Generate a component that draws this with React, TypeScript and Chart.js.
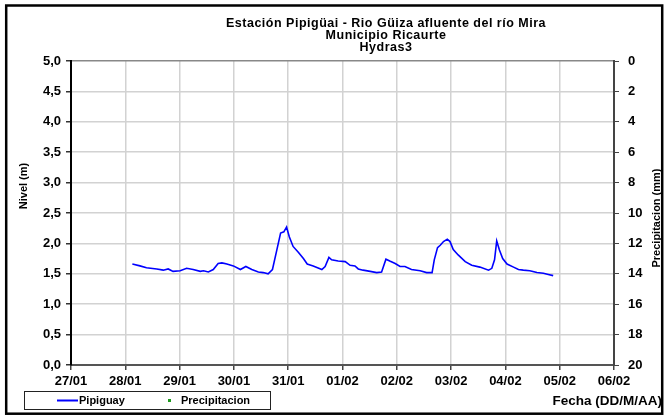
import { useEffect, useRef } from "react";
import { Chart, registerables } from "chart.js";

Chart.register(...registerables);

const dateLabels = ["27/01", "28/01", "29/01", "30/01", "31/01", "01/02", "02/02", "03/02", "04/02", "05/02", "06/02"];

const levelDays = [
  1.13, 1.27, 1.39, 1.58, 1.7, 1.79, 1.88, 2.01, 2.13, 2.25, 2.38, 2.44, 2.53, 2.62, 2.71, 2.78, 2.87, 2.99,
  3.12, 3.22, 3.33, 3.45, 3.54, 3.63, 3.71, 3.79, 3.86, 3.92, 3.97, 4.02, 4.09, 4.19, 4.28, 4.35, 4.46, 4.54,
  4.62, 4.68, 4.75, 4.8, 4.92, 5.05, 5.14, 5.23, 5.29, 5.38, 5.51, 5.63, 5.72, 5.8, 5.87, 5.97, 6.06, 6.15,
  6.27, 6.43, 6.55, 6.65, 6.69, 6.75, 6.8, 6.86, 6.93, 6.98, 7.04, 7.13, 7.26, 7.38, 7.53, 7.69, 7.75, 7.8,
  7.84, 7.89, 7.95, 8.03, 8.15, 8.24, 8.33, 8.45, 8.58, 8.7, 8.79, 8.88,
];
const levelValues = [
  1.66, 1.63, 1.6, 1.58, 1.56, 1.58, 1.54, 1.55, 1.59, 1.57, 1.54, 1.55, 1.53, 1.57, 1.67, 1.68, 1.66, 1.63,
  1.57, 1.62, 1.57, 1.53, 1.52, 1.5, 1.57, 1.89, 2.17, 2.19, 2.27, 2.11, 1.95, 1.85, 1.75, 1.66, 1.63, 1.6,
  1.57, 1.62, 1.77, 1.73, 1.71, 1.7, 1.64, 1.63, 1.58, 1.56, 1.54, 1.52, 1.53, 1.74, 1.71, 1.67, 1.62, 1.62,
  1.57, 1.55, 1.52, 1.52, 1.73, 1.93, 1.97, 2.03, 2.07, 2.03, 1.9, 1.81, 1.7, 1.64, 1.61, 1.56, 1.59, 1.73,
  2.04, 1.89, 1.75, 1.66, 1.61, 1.57, 1.56, 1.55, 1.52, 1.51, 1.49, 1.47,
];

const precipDays: number[] = [];
const precipValues: number[] = [];

const seriesNames = ["Pipiguay", "Precipitacion"];
const titleLines = ["Estación Pipigüai - Rio Güiza afluente del río Mira", "Municipio Ricaurte", "Hydras3"];
const leftTitle = "Nivel (m)";
const rightTitle = "Precipitacion (mm)";
const xTitle = "Fecha (DD/M/AA)";

const FONT = '"Liberation Sans", Arial, sans-serif';

const decorPlugin = {
  id: "decor",
  afterDraw(chart: any) {
    const ctx = chart.ctx as any;
    ctx.save();
    ctx.fillStyle = "#000";
    ctx.textAlign = "center";
    ctx.textBaseline = "middle";
    ctx.font = `bold 12.5px ${FONT}`;
    ctx.letterSpacing = "0.5px";
    titleLines.forEach((t, i) => ctx.fillText(t, 386, 23.5 + i * 11.8));
    ctx.letterSpacing = "0px";

    ctx.font = `bold 11px ${FONT}`;
    ctx.save();
    ctx.translate(24, 186);
    ctx.rotate(-Math.PI / 2);
    ctx.fillText(leftTitle, 0, 0);
    ctx.restore();

    ctx.save();
    ctx.translate(657, 218);
    ctx.rotate(-Math.PI / 2);
    ctx.fillText(rightTitle, 0, 0);
    ctx.restore();

    ctx.textAlign = "right";
    ctx.font = `bold 13.5px ${FONT}`;
    ctx.fillText(xTitle, 662, 401);

    // legend box
    ctx.lineWidth = 1;
    ctx.strokeStyle = "#222";
    ctx.strokeRect(24.5, 391.5, 246, 18);
    const ds = chart.data.datasets;
    ctx.strokeStyle = ds[0].borderColor;
    ctx.lineWidth = 2;
    ctx.beginPath();
    ctx.moveTo(57, 400.5);
    ctx.lineTo(78, 400.5);
    ctx.stroke();
    ctx.fillStyle = "#000";
    ctx.textAlign = "left";
    ctx.font = `bold 11px ${FONT}`;
    ctx.fillText(ds[0].label, 79, 401);
    ctx.fillStyle = ds[1].pointBackgroundColor;
    ctx.fillRect(168, 399, 3, 3);
    ctx.fillStyle = "#000";
    ctx.fillText(ds[1].label, 181, 401);

    // outer frame
    ctx.strokeStyle = "#000";
    ctx.lineWidth = 2.5;
    ctx.strokeRect(6.2, 5.5, 656, 408.2);
    ctx.restore();
  },
};

export default function App() {
  const ref = useRef<HTMLCanvasElement>(null);
  useEffect(() => {
    if (!ref.current) return;
    const chart = new Chart(ref.current, {
      type: "line",
      data: {
        datasets: [
          {
            label: seriesNames[0],
            data: levelDays.map((d, i) => ({ x: d, y: levelValues[i] })),
            borderColor: "#0000ff",
            borderWidth: 1.6,
            pointRadius: 0,
            tension: 0,
            yAxisID: "y",
          },
          {
            label: seriesNames[1],
            data: precipDays.map((d, i) => ({ x: d, y: precipValues[i] })),
            borderColor: "#1f9a1f",
            pointBackgroundColor: "#1f9a1f",
            showLine: false,
            pointRadius: 1.5,
            yAxisID: "y2",
          },
        ],
      },
      options: {
        animation: false,
        responsive: false,
        devicePixelRatio: 1,
        layout: { padding: { top: 61, left: 0, right: 0, bottom: 0 } },
        plugins: { legend: { display: false }, title: { display: false }, tooltip: { enabled: false } },
        scales: {
          x: {
            type: "linear",
            min: 0,
            max: 10,
            afterFit: (s: any) => {
              s.height = 50;
            },
            afterBuildTicks: (s: any) => {
              s.ticks = dateLabels.map((_, i) => ({ value: i }));
            },
            ticks: {
              callback: (v: any) => dateLabels[Math.round(v)] ?? "",
              font: { family: FONT, size: 13, weight: "bold" },
              color: "#000",
              padding: 4,
              maxRotation: 0,
              autoSkip: false,
            },
            grid: { color: "#d2d2d2", lineWidth: 1.5, tickColor: "#444", tickLength: 5 },
            border: { color: "#555", width: 2 },
          },
          y: {
            position: "left",
            min: 0,
            max: 5,
            afterFit: (s: any) => {
              s.width = 71;
            },
            ticks: {
              stepSize: 0.5,
              callback: (v: any) => Number(v).toFixed(1).replace(".", ","),
              font: { family: FONT, size: 13, weight: "bold" },
              color: "#000",
              padding: 5,
            },
            grid: {
              color: (c: any) => (c.tick && c.tick.value === 5 ? "#888" : "#d2d2d2"),
              lineWidth: 1.5,
              tickColor: "#333",
              tickLength: 5,
            },
            border: { color: "#000", width: 2 },
          },
          y2: {
            position: "right",
            min: 0,
            max: 20,
            reverse: true,
            afterFit: (s: any) => {
              s.width = 51;
            },
            ticks: {
              stepSize: 2,
              font: { family: FONT, size: 13, weight: "bold" },
              color: "#000",
              padding: 9,
            },
            grid: { drawOnChartArea: false, tickColor: "#444", tickLength: 5 },
            border: { color: "#444", width: 2 },
          },
        },
      },
      plugins: [decorPlugin],
    } as any);
    return () => chart.destroy();
  }, []);
  return (
    <div style={{ position: "absolute", left: 0, top: 0, width: 665, height: 415, background: "#fff" }}>
      <canvas ref={ref} width={665} height={415} style={{ display: "block" }} />
    </div>
  );
}
